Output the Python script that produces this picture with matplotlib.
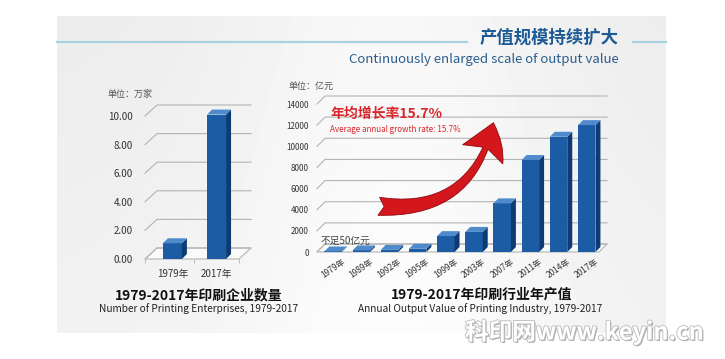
import numpy as np
import matplotlib
matplotlib.use('Agg')
from matplotlib import pyplot as plt
from matplotlib.patches import Polygon, FancyArrowPatch, ArrowStyle
import matplotlib.patheffects as pe

plt.rcParams['font.family'] = ['Noto Sans CJK SC', 'DejaVu Sans']
plt.rcParams['axes.unicode_minus'] = False

W, H = 725, 359

# 印刷企业数量（万家）
ent_years = ['1979年', '2017年']
ent_values = [1.1, 10.1]
ent_ticks = [0, 2, 4, 6, 8, 10]

# 印刷行业年产值（亿元）
out_years = ['1979年', '1989年', '1992年', '1995年', '1999年',
             '2003年', '2007年', '2011年', '2014年', '2017年']
out_values = [50, 150, 200, 300, 1500, 1900, 4600, 8700, 10900, 12000]
out_ticks = [0, 2000, 4000, 6000, 8000, 10000, 12000, 14000]

FRONT = '#1b5ca5'
SIDE = '#0d3c74'
TOP = '#4f8bcb'
GRID = '#b4b4b4'


def px_axes(l, t, r, b, z=2):
    ax = fig.add_axes([l / W, 1 - b / H, (r - l) / W, (b - t) / H], zorder=z)
    ax.set_facecolor('none')
    return ax


def depth(ax, dxp, dyp):
    # 像素偏移 -> 数据单位
    x0, x1 = ax.get_xlim()
    y0, y1 = ax.get_ylim()
    bb = ax.get_position()
    return dxp * (x1 - x0) / (bb.width * W), dyp * (y1 - y0) / (bb.height * H)


def wall(ax, ticks, dxp, dyp):
    x0, x1 = ax.get_xlim()
    ddx, ddy = depth(ax, dxp, dyp)
    floor = Polygon([(x0, 0), (x1 - ddx, 0), (x1, ddy), (x0 + ddx, ddy)],
                    facecolor='#fafafa', edgecolor=GRID, lw=0.8, zorder=1, clip_on=False)
    ax.add_patch(floor)
    for t in ticks:
        ax.plot([x0, x0 + ddx, x1], [t, t + ddy, t + ddy], color=GRID, lw=0.8,
                zorder=1, clip_on=False)


def bars3d(ax, vals, width, dxp, dyp):
    xs = np.arange(len(vals))
    ddx, ddy = depth(ax, dxp, dyp)
    ax.bar(xs, vals, width, color=FRONT, zorder=3, clip_on=False)
    for x, v in zip(xs, vals):
        l, r = x - width / 2, x + width / 2
        ax.add_patch(Polygon([(r, 0), (r, v), (r + ddx, v + ddy), (r + ddx, ddy)],
                             facecolor=SIDE, edgecolor='none', zorder=3, clip_on=False))
        ax.add_patch(Polygon([(l, v), (r, v), (r + ddx, v + ddy), (l + ddx, v + ddy)],
                             facecolor=TOP, edgecolor='none', zorder=3, clip_on=False))


fig = plt.figure(figsize=(W / 100, H / 100), dpi=100)

# 背景
bg = fig.add_axes([0, 0, 1, 1], zorder=0)
bg.set_xlim(0, W)
bg.set_ylim(H, 0)
bg.axis('off')
gx = np.linspace(0, 1, 200)
gy = np.linspace(0, 1, 100)
GX, GY = np.meshgrid(gx, gy)
shade = 0.925 + 0.045 * np.exp(-((GX - 0.55) ** 2) / 0.08) + 0.02 * GY
bg.imshow(shade, cmap='gray', vmin=0, vmax=1, extent=(57, 666, 333, 16), aspect='auto')
bg.plot([57, 467], [42, 42], color='#a8d2dd', lw=1.6)
bg.plot([633, 666], [42, 42], color='#a8d2dd', lw=1.6)
bg.text(619, 38, '产值规模持续扩大', ha='right', va='center', fontsize=12.5,
        fontweight='bold', color='#1c5a96')
bg.text(619, 60, 'Continuously enlarged scale of output value', ha='right', va='center',
        fontsize=9.5, color='#2b5d8c')

# 左图：企业数量
ax1 = px_axes(145, 116, 251, 259)
ax1.set_xlim(-0.62, 1.78)
ax1.set_ylim(0, 10)
wall(ax1, ent_ticks, 12, 11)
bars3d(ax1, ent_values, 0.43, 5, 5)
ax1.set_yticks(ent_ticks)
ax1.set_yticklabels(['%.2f' % t for t in ent_ticks], fontsize=7, color='#333333')
ax1.set_xticks(range(len(ent_years)))
ax1.set_xticklabels(ent_years, fontsize=7, color='#333333')
ax1.set_xticks([-0.62, 0.5, 1.5], minor=True)
ax1.tick_params(axis='y', length=0, pad=8.5)
ax1.tick_params(axis='x', which='major', length=0, pad=7)
ax1.tick_params(axis='x', which='minor', length=3, color=GRID)
for s in ax1.spines.values():
    s.set_visible(False)
ax1.text(-0.44, 11.2, '单位：万家', ha='right', va='bottom',
         fontsize=6.5, color='#555555', clip_on=False)

# 右图：年产值
ax2 = px_axes(317, 104, 607, 252)
ax2.set_xlim(-0.57, 9.72)
ax2.set_ylim(0, 14000)
wall(ax2, out_ticks, 8, 8)
bars3d(ax2, out_values, 0.62, 5, 5)
ax2.set_yticks(out_ticks)
ax2.set_yticklabels([str(t) for t in out_ticks], fontsize=5.8, color='#333333')
ax2.tick_params(axis='y', length=0, pad=5.8)
ax2.set_xticks([])
for s in ax2.spines.values():
    s.set_visible(False)
for i, lab in enumerate(out_years):
    ax2.text(i + 0.3, -450, lab, rotation=35, ha='right', va='top', rotation_mode='anchor',
             fontsize=6, color='#333333')
ax2.text(0, 15230, '单位：亿元', ha='right', va='bottom', fontsize=6.5,
         color='#555555', clip_on=False)
ax2.text(-0.45, 1100, '不足50亿元', ha='left', va='center', fontsize=7, color='#444444')

# 上层：箭头与说明文字
ov = fig.add_axes([0, 0, 1, 1], zorder=5)
ov.set_xlim(0, W)
ov.set_ylim(H, 0)
ov.axis('off')
arrow = FancyArrowPatch((376, 206), (494, 120), connectionstyle='arc3,rad=0.45',
                        arrowstyle=ArrowStyle.Fancy(head_length=24, head_width=32, tail_width=13),
                        mutation_scale=1, facecolor='#d3171d', edgecolor='#8e0b0f', lw=0.6)
ov.add_patch(arrow)
ov.text(330, 114, '年均增长率15.7%', ha='left', va='center', fontsize=10,
        fontweight='bold', color='#d8262b')
ov.text(330, 130, 'Average annual growth rate: 15.7%', ha='left', va='center',
        fontsize=5.8, color='#d8262b')

ov.text(199, 295, '1979-2017年印刷企业数量', ha='center', va='center', fontsize=10,
        fontweight='bold', color='#111111')
ov.text(199, 309, 'Number of Printing Enterprises, 1979-2017', ha='center', va='center',
        fontsize=7.3, color='#222222')
ov.text(482, 295, '1979-2017年印刷行业年产值', ha='center', va='center', fontsize=10,
        fontweight='bold', color='#111111')
ov.text(480, 309, 'Annual Output Value of Printing Industry, 1979-2017', ha='center',
        va='center', fontsize=7.3, color='#222222')

ov.text(465, 332, '科印网www.keyin.cn', ha='left', va='center', fontsize=17,
        fontweight='bold', color='white',
        path_effects=[pe.withSimplePatchShadow(offset=(1, -1), shadow_rgbFace='#777777', alpha=0.6),
                      pe.Stroke(linewidth=1.2, foreground='#bbbbbb'), pe.Normal()])

fig.savefig('out.png', dpi=100)
